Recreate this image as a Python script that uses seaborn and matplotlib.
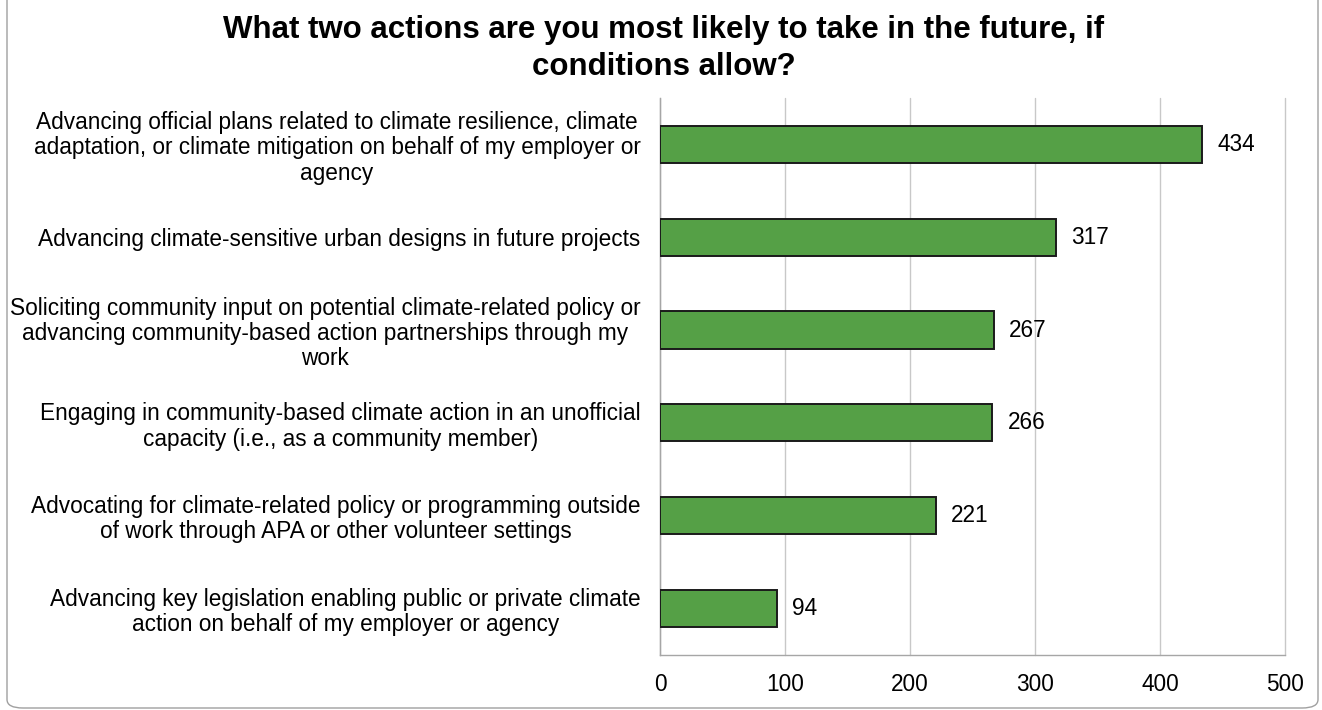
import matplotlib
matplotlib.use("Agg")
import matplotlib.pyplot as plt
from matplotlib.patches import FancyBboxPatch
import seaborn as sns
import pandas as pd

actions = [
    "Advancing official plans related to climate resilience, climate\nadaptation, or climate mitigation on behalf of my employer or\nagency",
    "Advancing climate-sensitive urban designs in future projects",
    "Soliciting community input on potential climate-related policy or\nadvancing community-based action partnerships through my\nwork",
    "Engaging in community-based climate action in an unofficial\ncapacity (i.e., as a community member)",
    "Advocating for climate-related policy or programming outside\nof work through APA or other volunteer settings",
    "Advancing key legislation enabling public or private climate\naction on behalf of my employer or agency",
]
counts = [434, 317, 267, 266, 221, 94]
x_ticks = [0, 100, 200, 300, 400, 500]

df = pd.DataFrame({"action": actions, "count": counts})

sns.set_theme(style="white")
plt.rcParams["font.family"] = ["Liberation Sans", "DejaVu Sans"]

fig = plt.figure(figsize=(13.22, 7.10), dpi=100)
ax = fig.add_axes([0.4992, 0.0775, 0.4728, 0.7845])

sns.barplot(data=df, x="count", y="action", orient="h", color="#55A046",
            saturation=1, width=0.4, edgecolor="#1a1a1a", linewidth=1.4,
            ax=ax, zorder=3)

ax.set_xlim(0, 500)
ax.set_ylim(5.5, -0.5)
ax.set_xticks(x_ticks)
ax.set_xticklabels([str(t) for t in x_ticks], fontsize=16.3, color="black")
ax.set_xlabel("")
ax.set_ylabel("")
ax.tick_params(axis="x", length=0, pad=13)
ax.tick_params(axis="y", length=0, pad=14)
for lbl in ax.get_yticklabels():
    lbl.set_fontsize(16.3)
    lbl.set_multialignment("center")
    lbl.set_linespacing(1.12)
    lbl.set_color("black")

ax.grid(axis="x", color="#c8c8c8", linewidth=1.0, zorder=0)
ax.grid(axis="y", visible=False)
for gl in ax.get_xgridlines():
    gl.set_clip_on(False)
for side in ["top", "right"]:
    ax.spines[side].set_visible(False)
for side in ["left", "bottom"]:
    ax.spines[side].set_color("#a6a6a6")
    ax.spines[side].set_linewidth(1.0)

for i, v in enumerate(counts):
    ax.text(v + 12, i, str(v), va="center", ha="left", fontsize=16.3,
            color="black", zorder=4)

fig.suptitle("What two actions are you most likely to take in the future, if\nconditions allow?",
             x=0.502, y=0.979, fontsize=22.5, fontweight="bold", linespacing=1.3,
             color="black")

frame = FancyBboxPatch((7 / 1322, 2 / 710), 1311 / 1322, 740 / 710,
                       boxstyle="round,pad=0,rounding_size=0.012",
                       transform=fig.transFigure, fill=False,
                       edgecolor="#a0a0a0", linewidth=1.0, clip_on=False)
fig.patches.append(frame)

fig.savefig("out.png", dpi=100, facecolor="white")
